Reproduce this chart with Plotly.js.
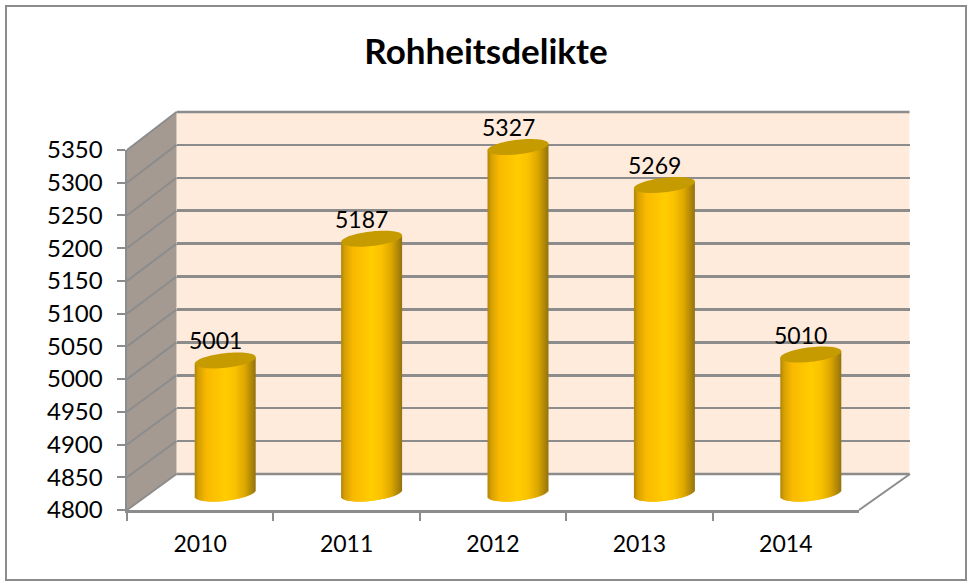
<!DOCTYPE html>
<html>
<head>
<meta charset="utf-8">
<script src="https://cdn.plot.ly/plotly-3.0.1.min.js"></script>
<style>html,body{margin:0;padding:0;background:#fff}#c{width:968px;height:581px}</style>
</head>
<body>
<div id="c"></div>
<script>
const categories = ['2010','2011','2012','2013','2014'];
const values = [5001,5187,5327,5269,5010];
const yTicks = [4800,4850,4900,4950,5000,5050,5100,5150,5200,5250,5300,5350];
const titleText = 'Rohheitsdelikte';

const W = 968, H = 581;
const FONT = 'Lato, Carlito, sans-serif';
const GRID = '#8c8c8c';
const px = x => x / W;
const py = y => 1 - y / H;
const domX = (a, b) => [px(a), px(b)];
const domY = (top, bottom) => [py(bottom), py(top)];
const PXU = 360 / 550;
const barPxW = 61, catPx = 146.4;

const y2Bottom = 4800 - 20 / PXU, y2Top = 4800 + (492 - 100) / PXU;

const stops = [[0,[176,132,10]],[0.06,[214,160,4]],[0.2,[250,186,0]],[0.5,[255,204,0]],[0.66,[250,194,0]],[0.82,[222,168,0]],[0.93,[176,136,8]],[1,[146,114,16]]];
function shade(t){
  for(let i=1;i<stops.length;i++){
    if(t<=stops[i][0]){
      const [a,ca]=stops[i-1],[b,cb]=stops[i],f=(t-a)/(b-a);
      return 'rgb('+ca.map((c,k)=>Math.round(c+(cb[k]-c)*f)).join(',')+')';
    }
  }
  return 'rgb(146,114,16)';
}
const tiltU = 3.3 / PXU, capU = 7.3 / PXU, baseCenter = 4800 - 1.5 / PXU;
const barW = barPxW / catPx, onePx = 1 / catPx;
const positions = categories.map((_, i) => i);

const traces = [];
traces.push({type:'scatter',mode:'lines',x:positions,y:values,xaxis:'x',yaxis:'y',line:{color:'rgba(0,0,0,0)'},hoverinfo:'skip',showlegend:false});

// One strip of a cylinder: sL is its left pixel inside the bar, wPx its width in pixels
function strip(sL, wPx, sColour){
  const t = (sColour+0.5)/barPxW, u = 2*t-1;
  const arc = Math.sqrt(Math.max(0,1-u*u));
  const bases = values.map(() => baseCenter + tiltU*u - capU*arc);
  traces.push({type:'bar',xaxis:'x2',yaxis:'y2',x:positions,base:bases,
    y:values.map((v,k)=>v + tiltU*u - bases[k]),
    width:wPx*onePx,offset:-barW/2+sL*onePx,
    marker:{color:shade(t),line:{width:0}},hoverinfo:'skip',showlegend:false});
}
// Strips are 3px wide and each one is overlapped by the next towards the middle
const mid = Math.floor(barPxW/2);
for(let s=0;s<mid-1;s++) strip(s,3,s);
for(let s=barPxW-1;s>mid+1;s--) strip(s-2,3,s);
strip(mid-1,3,mid);

traces.push({type:'scatter',mode:'lines',x:categories,y:values,xaxis:'x3',yaxis:'y3',line:{color:'rgba(0,0,0,0)'},hoverinfo:'skip',showlegend:false});

const shapes = [];
const poly = pts => 'M'+pts.map(p=>px(p[0])+','+py(p[1])).join('L')+'Z';
const line = pts => 'M'+pts.map(p=>px(p[0])+','+py(p[1])).join('L');
shapes.push({type:'rect',xref:'paper',yref:'paper',x0:px(6),x1:px(966),y0:py(580),y1:py(6),line:{color:'#8c8c8c',width:2},fillcolor:'#ffffff',layer:'below'});
shapes.push({type:'rect',xref:'paper',yref:'paper',x0:px(176.5),x1:px(909.5),y0:py(474),y1:py(112),line:{width:0},fillcolor:'#ffebdc',layer:'below'});
shapes.push({type:'path',xref:'paper',yref:'paper',path:poly([[127,150],[176.5,112],[176.5,474],[127,510]]),line:{width:0},fillcolor:'#a59a92',layer:'below'});
yTicks.forEach(v=>{
  const f=(v-4800)/550, a=510-360*f, b=474-362*f;
  shapes.push({type:'path',xref:'paper',yref:'paper',path:line([[127,a],[176.5,b]]),line:{color:GRID,width:2},layer:'below'});
});
[474,112].forEach(y=>{
  shapes.push({type:'path',xref:'paper',yref:'paper',path:line([[176.5,y],[909.5,y]]),line:{color:GRID,width:2.5},layer:'below'});
});
shapes.push({type:'path',xref:'paper',yref:'paper',path:line([[859,510],[910,474]]),line:{color:GRID,width:2},layer:'below'});
values.forEach((v,i)=>{
  const pts=[];
  for(let a=0;a<=64;a++){
    const th=a/64*2*Math.PI, u=Math.cos(th);
    pts.push((i+barW/2*u)+','+(v+tiltU*u+capU*Math.sin(th)));
  }
  shapes.push({type:'path',xref:'x2',yref:'y2',path:'M'+pts.join('L')+'Z',fillcolor:'#c69b00',line:{width:0},layer:'above'});
});

const annotations = values.map((v,i)=>({
  xref:'x2',yref:'y2',x:i,y:v,text:String(v),showarrow:false,xanchor:'center',yanchor:'middle',
  xshift:-10,yshift:20,font:{family:FONT,size:23,color:'#000'}
}));

const hidden = {visible:true,showticklabels:false,ticks:'',showline:false,showgrid:false,zeroline:false,fixedrange:true};
const layout = {
  width:W,height:H,margin:{l:0,r:0,t:0,b:0},autosize:false,
  paper_bgcolor:'#ffffff',plot_bgcolor:'rgba(0,0,0,0)',showlegend:false,barmode:'overlay',
  font:{family:FONT,size:23,color:'#000'},
  title:{text:'<b>'+titleText+'</b>',font:{family:FONT,size:35,color:'#000'},x:486/W,xanchor:'center',y:1-52/H,yanchor:'middle'},
  xaxis:Object.assign({},hidden,{domain:domX(176.5,909.5),range:[-0.5,4.5],anchor:'y'}),
  yaxis:{domain:domY(112,474),range:[4800,5350],anchor:'x',tickvals:yTicks,showticklabels:false,ticks:'',showgrid:true,gridcolor:GRID,gridwidth:2.5,showline:false,zeroline:false,fixedrange:true},
  xaxis2:Object.assign({},hidden,{domain:domX(152,884),range:[-0.5,4.5],anchor:'y2'}),
  yaxis2:Object.assign({},hidden,{domain:domY(100,492+20),range:[y2Bottom,y2Top],anchor:'x2'}),
  xaxis3:{domain:domX(127,859),type:'category',categoryorder:'array',categoryarray:categories,range:[-0.5,4.5],anchor:'y3',
    tickson:'boundaries',ticks:'outside',ticklen:8,tickwidth:2,tickcolor:GRID,showline:true,linecolor:GRID,linewidth:2.5,showgrid:false,zeroline:false,fixedrange:true,
    ticklabelstandoff:12,tickfont:{family:FONT,size:23,color:'#000'}},
  yaxis3:{domain:domY(150,510),range:[4800,5350],anchor:'x3',tickvals:yTicks,ticktext:yTicks.map(String),
    ticks:'outside',ticklen:8,tickwidth:2,tickcolor:GRID,showline:true,linecolor:GRID,linewidth:2.5,showgrid:false,zeroline:false,fixedrange:true,
    ticklabelstandoff:9,tickfont:{family:FONT,size:24,color:'#000'}},
  shapes,annotations
};
Plotly.newPlot('c',traces,layout,{displayModeBar:false,staticPlot:true});
</script>
</body>
</html>
